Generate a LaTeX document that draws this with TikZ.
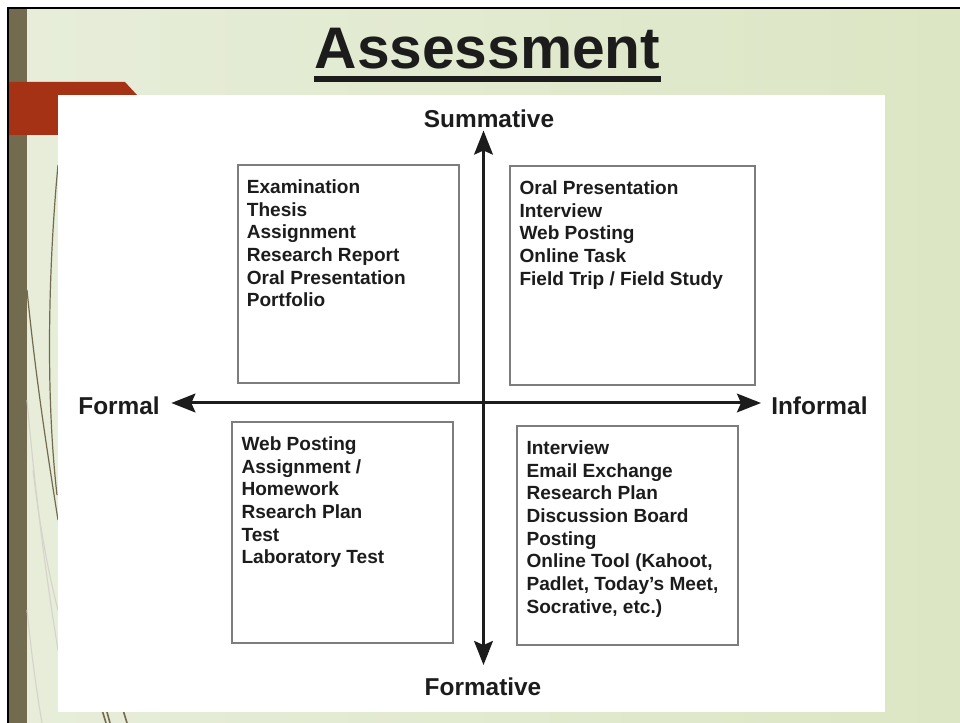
\documentclass[tikz,border=0pt]{standalone}
\usepackage{fontspec}
\setmainfont{Liberation Sans}
\usepackage{xcolor}
\usetikzlibrary{arrows.meta,positioning,fit}

\definecolor{slidebgl}{RGB}{231,237,218}
\definecolor{slidebgr}{RGB}{220,230,196}
\definecolor{barolive}{RGB}{115,107,80}
\definecolor{accentred}{RGB}{166,50,22}
\definecolor{boxgray}{RGB}{125,125,125}
\definecolor{inkdark}{RGB}{28,28,28}

\tikzset{
    axislabel/.style={font=\bfseries\fontsize{18.3}{22}\selectfont, text=inkdark, inner sep=0pt},
    quadbox/.style={draw=boxgray, line width=1.1pt, inner sep=0pt},
    itemlist/.style={align=left, inner sep=0pt, text=inkdark,
        font=\bfseries\fontsize{14.3}{17}\selectfont},
    axisarrow/.style={line width=2.25pt, draw=inkdark,
        -{Stealth[length=18pt,width=14pt,inset=3pt]}}
}

\begin{document}
\begin{tikzpicture}[x=0.75pt,y=-0.75pt]
        \useasboundingbox (0,0) rectangle (960,723);
        \fill[white] (0,0) rectangle (960,723);

        % Slide background and left bar
        \shade[left color=slidebgl,right color=slidebgr] (8,8) rectangle (960,723);
        \fill[barolive] (9,8) rectangle (27,723);

        % Thin decorative strokes
        \begin{scope}[barolive]
            \draw[line width=0.9pt] (58,165) .. controls (49,260) and (45,390) .. (57,495);
            \draw[line width=0.9pt] (27,290) .. controls (36,380) and (47,450) .. (58,520);
            \draw[barolive!30,line width=0.8pt] (27,400) .. controls (35,490) and (45,570) .. (58,650);
            \draw[barolive!30,line width=0.8pt] (33,470) .. controls (40,530) and (50,580) .. (58,610);
            \draw[barolive!30,line width=0.8pt] (27,610) .. controls (32,660) and (38,700) .. (42,723);
            \draw[line width=1.2pt] (96,690) -- (106,723);
            \draw[line width=1.2pt] (101,690) -- (110,723);
            \draw[line width=1.2pt] (117,690) -- (127,723);
        \end{scope}

        % Red tab behind the content panel
        \fill[accentred] (9,82) -- (125,82) -- (137,95) -- (137,135) -- (9,135) -- cycle;

        % Content panel
        \fill[white] (58,95) rectangle (885,712);

        % Frame lines
        \draw[black,line width=1.5pt] (7,8) -- (960,8);
        \draw[black,line width=1.5pt] (8,7) -- (8,723);

        % Title
        \node[anchor=base,inner sep=0pt,text=inkdark,font=\bfseries\fontsize{44}{50}\selectfont]
            (title) at (487.5,69) {Assessment};
        \draw[inkdark,line width=4.5pt] ([yshift=-7.2pt]title.base west) -- ([yshift=-7.2pt]title.base east);

        % Axis labels
        \coordinate (origin) at (483.5,403);
        \node[axislabel,anchor=base] (summative) at (489,128) {Summative};
        \node[axislabel,anchor=base] (formative) at (483,695) {Formative};
        \node[axislabel,anchor=base east] (formal) at (160,414) {Formal};
        \node[axislabel,anchor=base west] (informal) at (771,414) {Informal};

        % Axes
        \draw[axisarrow,shorten >=1.5pt] (origin) -- (origin |- summative.south);
        \draw[axisarrow,shorten >=9pt] (origin) -- (origin |- formative.north);
        \draw[axisarrow,shorten >=8.5pt] (origin) -- (origin -| formal.east);
        \draw[axisarrow,shorten >=7.5pt] (origin) -- (origin -| informal.west);

        % Quadrant boxes
        \node[quadbox,fit={(238,165) (459,383)}] (sfbox) {};
        \node[quadbox,fit={(510,166) (755,385)}] (sibox) {};
        \node[quadbox,fit={(232,422) (453,643)}] (ffbox) {};
        \node[quadbox,fit={(517,426) (738,645)}] (fibox) {};

        % Quadrant contents
        \node[itemlist,below right=11.25pt and 7pt of sfbox.north west] (sflist)
            {Examination\\Thesis\\Assignment\\Research Report\\Oral Presentation\\Portfolio};
        \node[itemlist,below right=11.25pt and 7.5pt of sibox.north west] (silist)
            {Oral Presentation\\Interview\\Web Posting\\Online Task\\Field Trip / Field Study};
        \node[itemlist,below right=11.25pt and 7.5pt of ffbox.north west] (fflist)
            {Web Posting\\Assignment /\\Homework\\Rsearch Plan\\Test\\Laboratory Test};
        \node[itemlist,below right=11.25pt and 7.5pt of fibox.north west] (filist)
            {Interview\\Email Exchange\\Research Plan\\Discussion Board\\Posting\\Online Tool (Kahoot,\\Padlet, Today's Meet,\\Socrative, etc.)};
    \end{tikzpicture}
\end{document}
